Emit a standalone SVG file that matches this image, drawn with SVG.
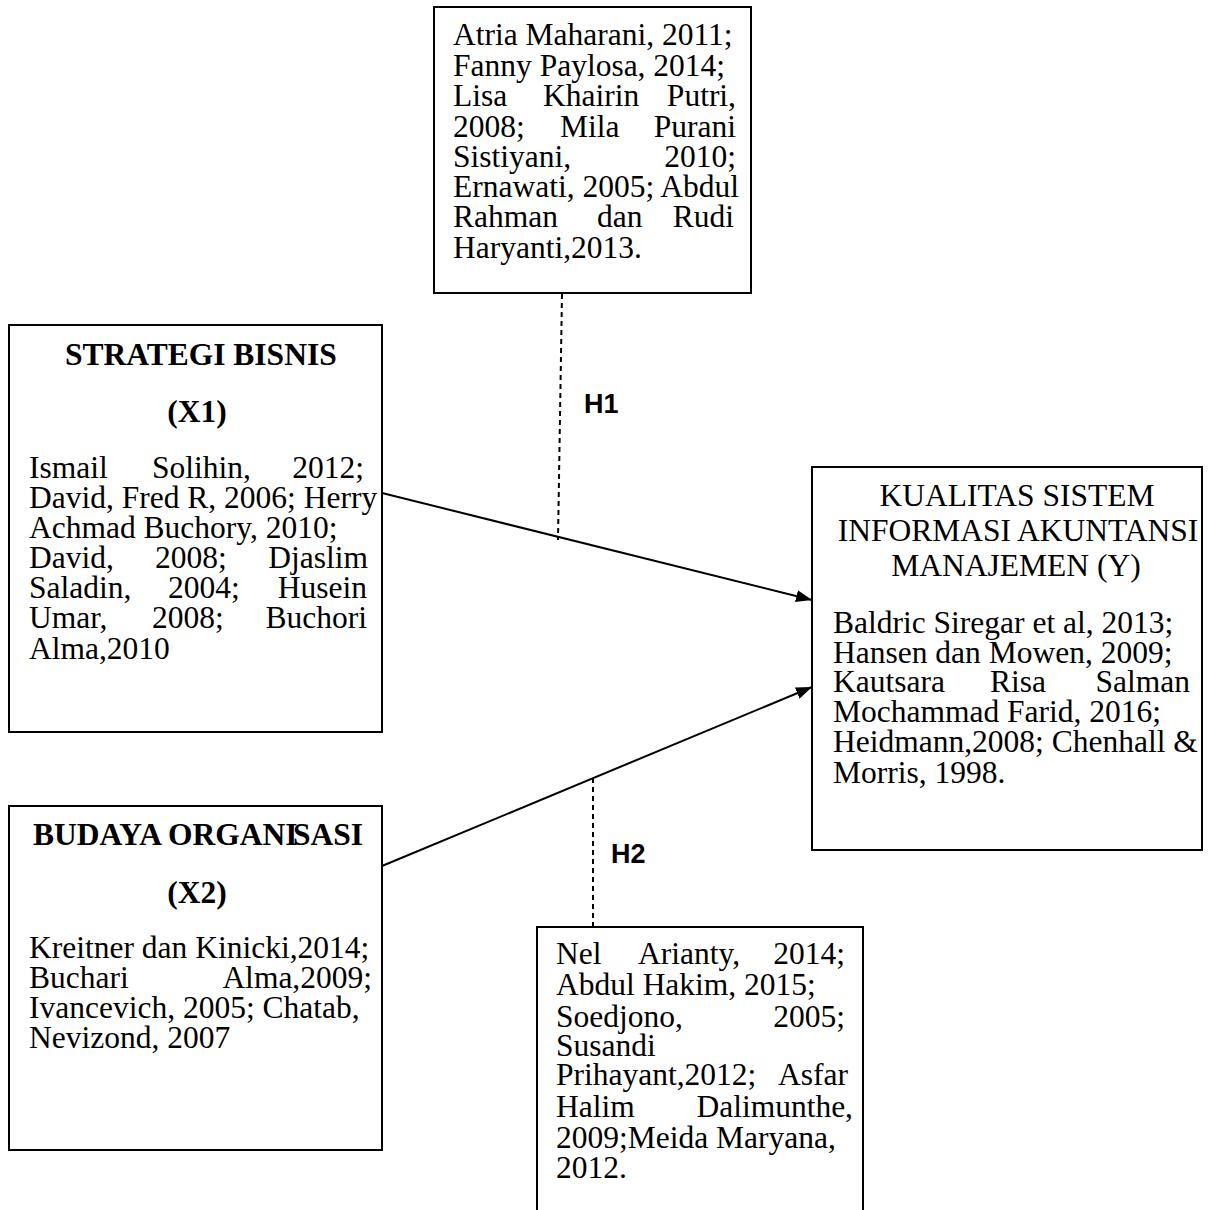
<svg xmlns="http://www.w3.org/2000/svg" width="1210" height="1210" viewBox="0 0 1210 1210">
<style>
.box{fill:#fff;stroke:#000;stroke-width:2}
.t{font-family:"Liberation Serif","Times New Roman",serif;font-size:31.5px;fill:#000}
.b{font-weight:bold}
.m{text-anchor:middle}
.h{font-family:"Liberation Sans",Arial,sans-serif;font-size:27px;font-weight:bold;fill:#000}
.ln{stroke:#000;stroke-width:2;fill:none}
.dash{stroke:#000;stroke-width:2;fill:none;stroke-dasharray:5 4}
</style>
<defs>
<marker id="ah" viewBox="0 0 16 12" refX="16" refY="6" markerWidth="16" markerHeight="12" markerUnits="userSpaceOnUse" orient="auto">
<path d="M0,0 L16,6 L0,12 Z" fill="#000"/>
</marker>
</defs>

<g id="connectors">
<line class="ln" x1="382" y1="493" x2="812" y2="600" marker-end="url(#ah)"/>
<line class="ln" x1="382" y1="866" x2="812" y2="687" marker-end="url(#ah)"/>
<line class="dash" x1="562" y1="294" x2="558" y2="540"/>
<line class="dash" x1="593" y1="778" x2="593" y2="927"/>
<text class="h" x="584" y="413">H1</text>
<text class="h" x="611" y="863">H2</text>
</g>

<g id="node-top">
<rect class="box" x="434" y="7" width="317" height="286"/>
<text class="t" x="453" y="45">Atria Maharani, 2011;</text>
<text class="t" x="453" y="76">Fanny Paylosa, 2014;</text>
<text class="t" y="106"><tspan x="453">Lisa</tspan><tspan x="543">Khairin</tspan><tspan x="736" text-anchor="end">Putri,</tspan></text>
<text class="t" y="137"><tspan x="453">2008;</tspan><tspan x="560">Mila</tspan><tspan x="736" text-anchor="end">Purani</tspan></text>
<text class="t" y="167"><tspan x="453">Sistiyani,</tspan><tspan x="736" text-anchor="end">2010;</tspan></text>
<text class="t" x="453" y="197">Ernawati, 2005; Abdul</text>
<text class="t" y="227"><tspan x="453">Rahman</tspan><tspan x="597">dan</tspan><tspan x="734" text-anchor="end">Rudi</tspan></text>
<text class="t" x="453" y="258">Haryanti,2013.</text>
</g>

<g id="node-x1">
<rect class="box" x="9" y="325" width="373" height="407"/>
<text class="t b" x="65" y="365">STRATEGI BISNIS</text>
<text class="t b m" x="197" y="422">(X1)</text>
<text class="t" y="478"><tspan x="29">Ismail</tspan><tspan x="152">Solihin,</tspan><tspan x="364" text-anchor="end">2012;</tspan></text>
<text class="t" x="29" y="508">David, Fred R, 2006; Herry</text>
<text class="t" x="29" y="538">Achmad Buchory, 2010;</text>
<text class="t" y="568"><tspan x="29">David,</tspan><tspan x="155">2008;</tspan><tspan x="368" text-anchor="end">Djaslim</tspan></text>
<text class="t" y="598"><tspan x="29">Saladin,</tspan><tspan x="168">2004;</tspan><tspan x="367" text-anchor="end">Husein</tspan></text>
<text class="t" y="628"><tspan x="29">Umar,</tspan><tspan x="152">2008;</tspan><tspan x="367" text-anchor="end">Buchori</tspan></text>
<text class="t" x="29" y="659">Alma,2010</text>
</g>

<g id="node-x2">
<rect class="box" x="9" y="806" width="373" height="344"/>
<text class="t b" y="845"><tspan x="33">BUDAYA ORGAN</tspan><tspan>I</tspan><tspan x="293">SASI</tspan></text>
<text class="t b m" x="197" y="903">(X2)</text>
<text class="t" x="29" y="958">Kreitner dan Kinicki,2014;</text>
<text class="t" y="988"><tspan x="29">Buchari</tspan><tspan x="372" text-anchor="end">Alma,2009;</tspan></text>
<text class="t" x="29" y="1018">Ivancevich, 2005; Chatab,</text>
<text class="t" x="29" y="1048">Nevizond, 2007</text>
</g>

<g id="node-y">
<rect class="box" x="812" y="467" width="390" height="383"/>
<text class="t m" x="1017" y="506">KUALITAS SISTEM</text>
<text class="t m" x="1018" y="541">INFORMASI AKUNTANSI</text>
<text class="t m" x="1016" y="576">MANAJEMEN (Y)</text>
<text class="t" x="833" y="633">Baldric Siregar et al, 2013;</text>
<text class="t" x="833" y="663">Hansen dan Mowen, 2009;</text>
<text class="t" y="692"><tspan x="833">Kautsara</tspan><tspan x="990">Risa</tspan><tspan x="1190" text-anchor="end">Salman</tspan></text>
<text class="t" x="833" y="722">Mochammad Farid, 2016;</text>
<text class="t" x="833" y="752">Heidmann,2008; Chenhall &amp;</text>
<text class="t" x="833" y="783">Morris, 1998.</text>
</g>

<g id="node-bottom">
<rect class="box" x="537" y="927" width="326" height="300"/>
<text class="t" y="964"><tspan x="556">Nel</tspan><tspan x="638">Arianty,</tspan><tspan x="845" text-anchor="end">2014;</tspan></text>
<text class="t" x="556" y="995">Abdul Hakim, 2015;</text>
<text class="t" y="1027"><tspan x="556">Soedjono,</tspan><tspan x="845" text-anchor="end">2005;</tspan></text>
<text class="t" x="556" y="1056">Susandi</text>
<text class="t" y="1085"><tspan x="556">Prihayant,2012;</tspan><tspan x="848" text-anchor="end">Asfar</tspan></text>
<text class="t" y="1117"><tspan x="556">Halim</tspan><tspan x="853" text-anchor="end">Dalimunthe,</tspan></text>
<text class="t" x="556" y="1148">2009;Meida Maryana,</text>
<text class="t" x="556" y="1178">2012.</text>
</g>
</svg>
